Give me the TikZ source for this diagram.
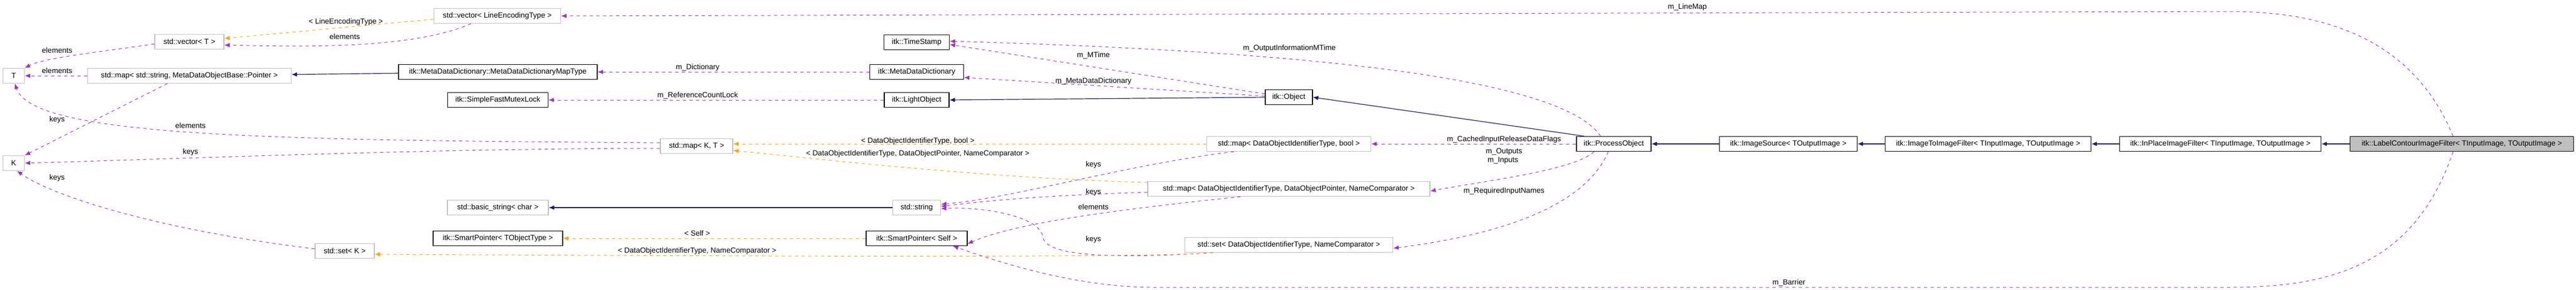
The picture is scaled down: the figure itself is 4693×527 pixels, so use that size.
\documentclass[tikz,border=0pt]{standalone}
\usepackage{fontspec}
\setmainfont{Liberation Sans}
\usetikzlibrary{arrows.meta}
\definecolor{pur}{HTML}{9A32CD}
\definecolor{org}{HTML}{FFA500}
\definecolor{nav}{HTML}{191970}
\definecolor{gbd}{HTML}{BFBFBF}
\begin{document}
\begin{tikzpicture}[x=0.5pt,y=-0.5pt,
  every node/.style={font=\fontsize{6.8}{8}\selectfont, inner sep=0pt},
  bbox/.style={draw=black, line width=0.6pt, fill=white, minimum height=13.5pt},
  gbox/.style={draw=gbd, line width=0.6pt, fill=white, minimum height=13.5pt},
  tip/.style={-{Latex[length=5pt,width=4pt]}},
  pe/.style={tip, draw=pur, dashed, line width=0.5pt, pur},
  oe/.style={tip, draw=org, dashed, line width=0.5pt, org},
  ne/.style={tip, draw=nav, line width=0.6pt, nav},
  lab/.style={font=\fontsize{6.8}{8}\selectfont}]
\useasboundingbox (0,0) rectangle (4693,527);
% nodes
\node[gbox,minimum width=115.5pt] (vLET) at (906,29) {std::vector< LineEncodingType >};
\node[gbox,minimum width=63pt] (vT) at (345,76) {std::vector< T >};
\node[gbox,minimum width=19.5pt] (T) at (25,138) {T};
\node[gbox,minimum width=185.5pt] (mStr) at (345,138) {std::map< std::string, MetaDataObjectBase::Pointer >};
\node[bbox,minimum width=181pt] (mapT) at (907,131) {itk::MetaDataDictionary::MetaDataDictionaryMapType};
\node[bbox,minimum width=91.5pt] (sfml) at (907,182) {itk::SimpleFastMutexLock};
\node[gbox,minimum width=19.5pt] (K) at (25,297) {K};
\node[gbox,minimum width=92pt] (bstr) at (907,378) {std::basic\_string< char >};
\node[bbox,minimum width=118pt] (spT) at (907,434) {itk::SmartPointer< TObjectType >};
\node[gbox,minimum width=54pt] (setK) at (628,457) {std::set< K >};
\node[bbox,minimum width=59.5pt] (ts) at (1670,77) {itk::TimeStamp};
\node[bbox,minimum width=85.5pt] (mdd) at (1670,131) {itk::MetaDataDictionary};
\node[bbox,minimum width=59pt] (lo) at (1670,182) {itk::LightObject};
\node[gbox,minimum width=66pt] (mKT) at (1269,266) {std::map< K, T >};
\node[gbox,minimum width=43.5pt] (str) at (1670,378) {std::string};
\node[bbox,minimum width=92pt] (spS) at (1670,434) {itk::SmartPointer< Self >};
\node[bbox,minimum width=43pt] (obj) at (2348,177) {itk::Object};
\node[gbox,minimum width=149.5pt] (mB) at (2348,262) {std::map< DataObjectIdentifierType, bool >};
\node[bbox,minimum width=68pt] (po) at (2940,262) {itk::ProcessObject};
\node[gbox,minimum width=257pt] (mD) at (2348,344) {std::map< DataObjectIdentifierType, DataObjectPointer, NameComparator >};
\node[gbox,minimum width=189.5pt] (sD) at (2348,446) {std::set< DataObjectIdentifierType, NameComparator >};
\node[bbox,minimum width=125.5pt] (is) at (3258,262) {itk::ImageSource< TOutputImage >};
\node[bbox,minimum width=187.5pt] (i2i) at (3622,262) {itk::ImageToImageFilter< TInputImage, TOutputImage >};
\node[bbox,minimum width=183.5pt] (ip) at (4045,262) {itk::InPlaceImageFilter< TInputImage, TOutputImage >};
\node[bbox,fill=gbd,minimum width=203.5pt] (lcf) at (4485,262) {itk::LabelContourImageFilter< TInputImage, TOutputImage >};
% coordinates
\coordinate (lm1) at (4064,21);
\coordinate (br1) at (4064,523);
\coordinate (br2) at (2100,523);
% inheritance
\draw[ne] (lcf) -- (ip);
\draw[ne] (ip) -- (i2i);
\draw[ne] (i2i) -- (is);
\draw[ne] (is) -- (po);
\draw[ne] ([xshift=-27pt]po.north) -- (obj.east);
\draw[ne] (obj.west) -- (lo.east);
\draw[ne] (mapT) -- (mStr);
\draw[ne] (str) -- (bstr);
% members
\draw[pe] ([xshift=-8pt]lcf.north) .. controls (4400,80) and (4250,21) .. (lm1) -- (vLET.east);
\draw[pe] ([xshift=-8pt]lcf.south) .. controls (4400,480) and (4250,523) .. (br1) -- (br2) .. controls (1950,523) and (1800,470) .. ([xshift=33pt]spS.south);
\draw[pe] ([yshift=3pt]obj.west) -- ([yshift=-2pt]ts.east);
\draw[pe] ([yshift=1pt]obj.west) -- ([yshift=-5pt]mdd.east);
\draw[pe] ([xshift=-12pt]po.north) .. controls (2850,150) and (2450,95) .. ([yshift=1pt]ts.east);
\draw[pe] (mdd) -- (mapT);
\draw[pe] (lo) -- (sfml);
\draw[pe] (mStr) -- (T);
\draw[pe] ([xshift=-20pt]mStr.south) -- (K.north east);
\draw[pe] ([yshift=-2pt]vT.west) .. controls (180,95) and (80,105) .. (T.north east);
\draw[pe] ([xshift=-24pt]vLET.south) .. controls (750,90) and (550,85) .. ([yshift=-3pt]vT.east);
\draw[oe] ([yshift=-3pt]vLET.west) -- ([yshift=3pt]vT.east);
\draw[pe] ([yshift=3pt]mKT.west) .. controls (500,255) and (60,250) .. ([xshift=1pt]T.south);
\draw[pe] ([yshift=-2pt]mKT.west) .. controls (800,270) and (300,290) .. (K.east);
\draw[pe] ([yshift=2pt]setK.west) .. controls (300,420) and (100,360) .. ([xshift=3pt]K.south);
\draw[oe] (mB.west) -- ([yshift=2pt]mKT.east);
\draw[oe] ([yshift=6pt]mD.west) .. controls (1800,325) and (1500,290) .. ([yshift=-4pt]mKT.east);
\draw[pe] ([xshift=-50pt]mB.south) .. controls (2050,300) and (1850,360) .. ([yshift=3pt]str.east);
\draw[pe] ([yshift=-3pt]mD.west) .. controls (1900,356) and (1800,365) .. ([yshift=1pt]str.east);
\draw[pe] ([xshift=-44pt]mD.south) .. controls (2050,380) and (1850,405) .. ([yshift=-5pt]spS.east);
\draw[pe] ([xshift=-69pt]sD.south) .. controls (2050,470) and (1900,470) .. (1900,430) .. controls (1890,390) and (1780,376) .. ([yshift=-1pt]str.east);
\draw[oe] (spS) -- (spT);
\draw[oe] ([xshift=-69pt]sD.south) .. controls (2100,470) and (1300,466) .. ([yshift=-3pt]setK.east);
\draw[pe] (po) -- (mB);
\draw[pe] ([xshift=-18pt]po.south) .. controls (2870,310) and (2700,330) .. ([yshift=-2pt]mD.east);
\draw[pe] ([xshift=-5pt]po.south) .. controls (2890,370) and (2750,425) .. ([yshift=-3pt]sD.east);
% labels
\node[lab] at (3074,13) {m\_LineMap};
\node[lab] at (3259,515) {m\_Barrier};
\node[lab] at (630,40) {< LineEncodingType >};
\node[lab] at (628,67) {elements};
\node[lab] at (104,92) {elements};
\node[lab] at (104,129) {elements};
\node[lab] at (104,218) {keys};
\node[lab] at (347,229) {elements};
\node[lab] at (347,277) {keys};
\node[lab] at (104,324) {keys};
\node[lab] at (1271,123) {m\_Dictionary};
\node[lab] at (1271,174) {m\_ReferenceCountLock};
\node[lab] at (1992,101) {m\_MTime};
\node[lab] at (1992,148) {m\_MetaDataDictionary};
\node[lab] at (2349,88) {m\_OutputInformationMTime};
\node[lab] at (1672,257) {< DataObjectIdentifierType, bool >};
\node[lab] at (1672,280) {< DataObjectIdentifierType, DataObjectPointer, NameComparator >};
\node[lab] at (1992,300) {keys};
\node[lab] at (1992,350) {keys};
\node[lab] at (1992,377) {elements};
\node[lab] at (1992,436) {keys};
\node[lab] at (1270,425) {< Self >};
\node[lab] at (1270,457) {< DataObjectIdentifierType, NameComparator >};
\node[lab] at (2740,254) {m\_CachedInputReleaseDataFlags};
\node[lab] at (2740,276) {m\_Outputs};
\node[lab] at (2738,292) {m\_Inputs};
\node[lab] at (2740,348) {m\_RequiredInputNames};
\end{tikzpicture}
\end{document}
